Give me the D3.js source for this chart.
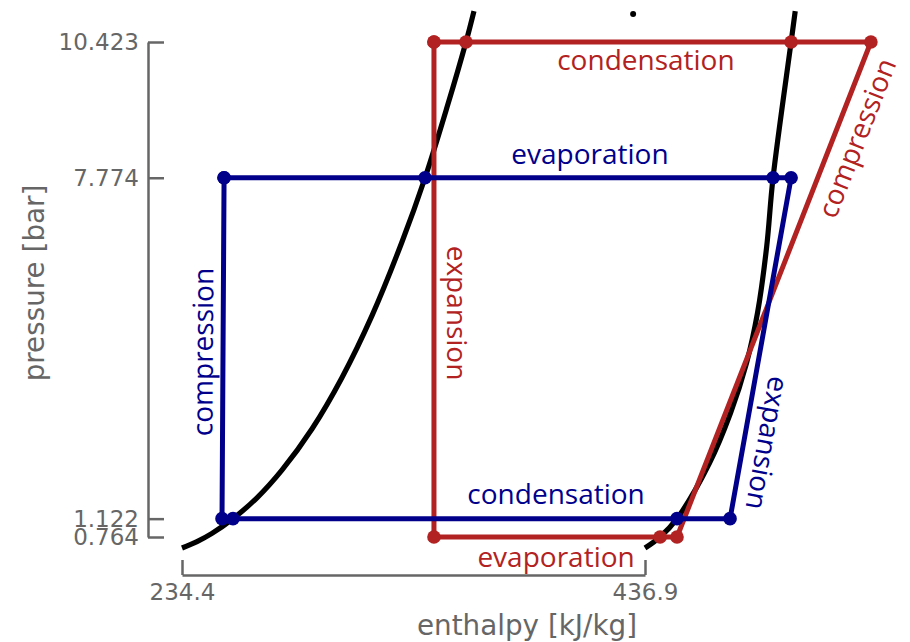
<!DOCTYPE html>
<html>
<head>
<meta charset="utf-8">
<script src="https://cdn.jsdelivr.net/npm/d3@7"></script>
<style>
  html, body { margin: 0; padding: 0; background: #fff; }
  svg { display: block; }
</style>
</head>
<body>
<svg id="chart" width="910" height="642"></svg>
<script>
// Saturation dome: liquid and vapour lines (enthalpy kJ/kg vs pressure bar)
const satLiquidH = [234.4, 240.96, 247.52, 256.7, 267.2, 278.1, 291.3, 304.4, 317.5, 330.6, 340.7, 350.3, 358.6, 362.1];
const satLiquidP = [0.549, 0.674, 0.834, 1.122, 1.529, 2.069, 2.877, 3.878, 5.084, 6.520, 7.774, 9.148, 10.423, 11.027];
const satVapourH = [436.9, 443.5, 450.9, 465.1, 474.3, 481.3, 486.1, 490.1, 492.9, 500.8, 502.6];
const satVapourP = [0.549, 0.764, 1.122, 2.208, 3.184, 4.159, 5.135, 6.423, 7.774, 10.423, 11.027];

// Critical point
const criticalPoint = [431.7, 10.97];

// Refrigeration cycle (red)
const redH = [344.6, 344.6, 443.5, 450.9, 535.7, 500.8, 358.6, 344.6];
const redP = [10.423, 0.764, 0.764, 0.764, 10.423, 10.423, 10.423, 10.423];

// Reversed cycle (blue)
const blueH = [252.8, 340.7, 492.9, 500.8, 474.1, 450.9, 256.7, 251.9, 252.8];
const blueP = [7.774, 7.774, 7.774, 7.774, 1.122, 1.122, 1.122, 1.122, 7.774];

// Axis ticks
const xTicks = [234.4, 436.9];
const xTickLabels = ["234.4", "436.9"];
const yTicks = [0.764, 1.122, 7.774, 10.423];
const yTickLabels = ["0.764", "1.122", "7.774", "10.423"];

// Process labels: text, anchor (h, p), colour, segment the text runs along
const labelText  = ["condensation", "compression", "expansion", "evaporation",
                    "evaporation", "expansion", "condensation", "compression"];
const labelH     = [437.3, 529.6, 354.7, 398.0, 412.8, 490.3, 398.0, 243.6];
const labelP     = [10.07, 8.55, 5.135, 0.374, 8.237, 2.598, 1.603, 4.374];
const labelCycle = ["red", "red", "red", "red", "blue", "blue", "blue", "blue"];
const labelSeg   = [null, [3, 4], [0, 1], null, null, [3, 4], null, [7, 8]];

const colours = { red: "#b22222", blue: "#00008b" };
const axisGrey = "#666666";

const svg = d3.select("#chart");

const x = d3.scaleLinear().domain([234.4, 436.9]).range([182, 645]);
const y = d3.scaleLinear().domain([0.764, 10.423]).range([537, 42]);

// Axes (offset spines, inward ticks)
const xAxis = d3.axisBottom(x)
  .tickValues(xTicks)
  .tickFormat((d, i) => xTickLabels[i])
  .tickSize(-15).tickSizeOuter(0).tickPadding(9);
const yAxis = d3.axisLeft(y)
  .tickValues(yTicks)
  .tickFormat((d, i) => yTickLabels[i])
  .tickSize(-16).tickSizeOuter(0).tickPadding(9);

function styleAxis(g) {
  g.select(".domain").attr("stroke", axisGrey).attr("stroke-width", 2.5);
  g.selectAll(".tick line").attr("stroke", axisGrey).attr("stroke-width", 2.5);
  g.selectAll(".tick text")
    .attr("fill", axisGrey)
    .style("font-family", "DejaVu Sans")
    .style("font-size", "23px");
}

svg.append("g").attr("transform", "translate(0,575)").call(xAxis).call(styleAxis);
svg.append("g").attr("transform", "translate(148,0)").call(yAxis).call(styleAxis);

// Axis titles
svg.append("text")
  .attr("x", 527).attr("y", 635)
  .attr("text-anchor", "middle")
  .attr("fill", axisGrey)
  .style("font-family", "DejaVu Sans").style("font-size", "27.8px")
  .text("enthalpy [kJ/kg]");
svg.append("text")
  .attr("transform", "translate(44,283) rotate(-90)")
  .attr("text-anchor", "middle")
  .attr("fill", axisGrey)
  .style("font-family", "DejaVu Sans").style("font-size", "27.8px")
  .text("pressure [bar]");

// Saturation lines
const satLine = d3.line().x(d => x(d[0])).y(d => y(d[1])).curve(d3.curveCatmullRom.alpha(0.5));
[[satLiquidH, satLiquidP], [satVapourH, satVapourP]].forEach(([hs, ps]) => {
  svg.append("path")
    .datum(hs.map((h, i) => [h, ps[i]]))
    .attr("d", satLine)
    .attr("fill", "none")
    .attr("stroke", "#000")
    .attr("stroke-width", 5.2);
});
svg.append("circle")
  .attr("cx", x(criticalPoint[0])).attr("cy", y(criticalPoint[1]))
  .attr("r", 3).attr("fill", "#000");

// Cycles
const cycles = { red: [redH, redP], blue: [blueH, blueP] };
const pathLine = d3.line().x(d => x(d[0])).y(d => y(d[1]));
["red", "blue"].forEach(name => {
  const [hs, ps] = cycles[name];
  const pts = hs.map((h, i) => [h, ps[i]]);
  const g = svg.append("g");
  g.append("path")
    .datum(pts)
    .attr("d", pathLine)
    .attr("fill", "none")
    .attr("stroke", colours[name])
    .attr("stroke-width", 5)
    .attr("stroke-linejoin", "round");
  g.selectAll("circle")
    .data(pts)
    .join("circle")
    .attr("cx", d => x(d[0]))
    .attr("cy", d => y(d[1]))
    .attr("r", 6.8)
    .attr("fill", colours[name]);
});

// Process labels, rotated along their segment where given
labelText.forEach((t, i) => {
  const [hs, ps] = cycles[labelCycle[i]];
  let angle = 0;
  const seg = labelSeg[i];
  if (seg) {
    const dx = x(hs[seg[1]]) - x(hs[seg[0]]);
    const dy = y(ps[seg[1]]) - y(ps[seg[0]]);
    angle = Math.atan2(dy, dx) * 180 / Math.PI;
  }
  svg.append("text")
    .attr("transform", `translate(${x(labelH[i])},${y(labelP[i])}) rotate(${angle})`)
    .attr("text-anchor", "middle")
    .attr("dy", "0.35em")
    .attr("fill", colours[labelCycle[i]])
    .style("font-family", "Open Sans")
    .style("font-size", "28px")
    .text(t);
});
</script>
</body>
</html>
